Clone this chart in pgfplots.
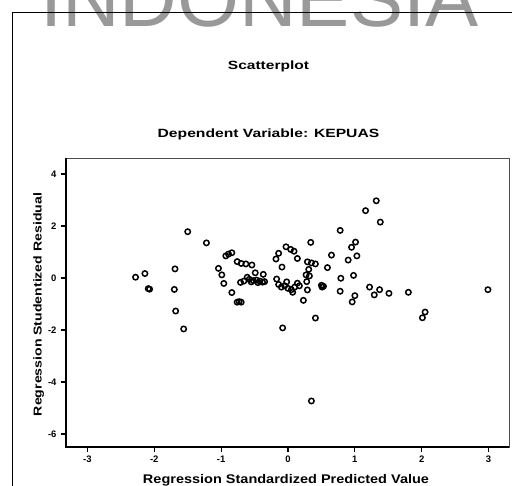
\documentclass[border=0pt]{standalone}
\usepackage{pgfplots}
\pgfplotsset{compat=1.18}
\usepackage{fontspec}
\setmainfont{Liberation Sans}
\pgfplotstableread{
x y
-2.28 0.03
-2.14 0.17
-2.09 -0.41
-2.07 -0.43
-1.69 0.35
-1.70 -0.44
-1.68 -1.27
-1.56 -1.96
-1.50 1.78
-1.22 1.35
-1.04 0.37
-0.99 0.12
-0.96 -0.21
-0.93 0.85
-0.89 0.92
-0.84 0.97
-0.84 -0.56
-0.76 -0.93
-0.73 -0.91
-0.70 -0.93
-0.76 0.63
-0.70 0.56
-0.63 0.54
-0.54 0.50
-0.49 0.20
-0.37 0.14
-0.71 -0.17
-0.61 0.03
-0.66 -0.12
-0.58 -0.05
-0.52 -0.10
-0.47 -0.08
-0.42 -0.12
-0.38 -0.16
-0.35 -0.14
-0.45 -0.18
-0.55 -0.15
-0.18 0.73
-0.14 0.95
-0.09 0.42
-0.03 1.20
0.04 1.10
0.09 1.03
0.14 0.75
-0.17 -0.04
-0.08 -1.92
-0.14 -0.25
-0.10 -0.35
-0.05 -0.30
0.00 -0.40
0.05 -0.45
0.10 -0.35
0.14 -0.20
0.17 -0.30
-0.02 -0.15
0.07 -0.55
0.23 -0.86
0.29 -0.46
0.29 0.62
0.35 0.58
0.41 0.54
0.31 0.33
0.27 0.12
0.32 0.08
0.28 -0.14
0.34 1.37
0.41 -1.54
0.35 -4.73
0.50 -0.28
0.53 -0.32
0.51 -0.35
0.59 0.40
0.65 0.88
0.78 1.83
0.79 -0.01
0.78 -0.51
0.90 0.69
0.95 1.18
1.01 1.38
1.03 0.85
0.98 0.10
1.00 -0.68
0.96 -0.92
1.16 2.59
1.32 2.97
1.38 2.15
1.22 -0.35
1.29 -0.65
1.37 -0.45
1.51 -0.59
1.80 -0.55
2.05 -1.31
2.01 -1.53
2.99 -0.45
}\resid
\begin{document}
\begin{tikzpicture}
\useasboundingbox (0,0) rectangle (512bp,486bp);
\node[anchor=base west, inner sep=0, text=black!40, font=\fontsize{80}{80}\selectfont] at (40bp,459bp) {INDONESIA};
\draw[line width=1.2bp] (12.5bp,0) -- (12.5bp,473.5bp) -- (520bp,473.5bp);
\node[anchor=base, inner sep=0, font=\fontsize{12}{12}\selectfont\bfseries] at (268.5bp,416.7bp) {\scalebox{1.3}[1]{Scatterplot}};
\node[anchor=base, inner sep=0, font=\fontsize{12}{12}\selectfont\bfseries] at (268.5bp,348.7bp) {\scalebox{1.31}[1]{Dependent Variable: KEPUAS}};
\node[anchor=base, inner sep=0, font=\fontsize{12.6}{12.6}\selectfont\bfseries] at (286bp,3bp) {\scalebox{1.155}[1]{Regression Standardized Predicted Value}};
\node[anchor=base, inner sep=0, rotate=90, font=\fontsize{11.5}{11.5}\selectfont\bfseries] at (41.5bp,181.5bp) {\scalebox{1.23}[1]{Regression Studentized Residual}};
\begin{axis}[
 at={(66bp,39bp)}, anchor=south west, scale only axis,
 width=443bp, height=289bp,
 xmin=-3.32, xmax=3.305, ymin=-6.5, ymax=4.615,
 xtick={-3,-2,-1,0,1,2,3}, xticklabels={-3,-2,-1,0,1,2,3},
 ytick={-6,-4,-2,0,2,4}, yticklabels={-6,-4,-2,0,2,4},
 tick pos=left, tick align=outside, major tick length=5bp,
 tick style={line width=1.2bp, black},
 axis line style={line width=0.6bp, black!70},
 ticklabel style={font=\fontsize{9.5}{10}\selectfont\bfseries},
 yticklabel style={xshift=-1bp},
 clip=false,
]
\addplot[only marks, mark=o, mark size=2.7bp, mark options={line width=1.5bp, black}] table[x=x,y=y] {\resid};
\draw[line width=1.8bp] (rel axis cs:0,1) -- (rel axis cs:0,0) -- (rel axis cs:1,0);
\end{axis}
\end{tikzpicture}
\end{document}
